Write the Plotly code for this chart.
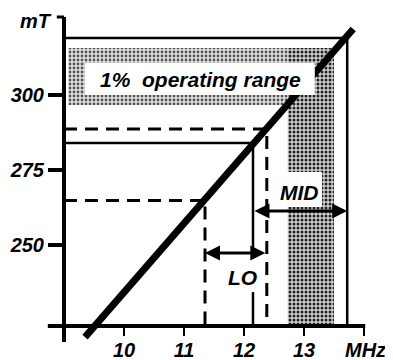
import plotly.graph_objects as go

# ---------------- data ----------------
# calibration line: field (mT) versus frequency (MHz)
diag_mhz = [9.35, 13.82]
diag_mt = [219.3, 322.0]

# horizontal levels (mT) and where they meet the calibration line (MHz)
level_mt = [319.0, 288.7, 284.0, 264.8]
level_mhz = [13.72, 12.38, 12.15, 11.35]

# axes
x_cross_mt = 223.0      # field at which the frequency axis is drawn
y_cross_mhz = 9.0       # frequency at which the field axis is drawn
x_ticks = [9, 10, 11, 12, 13, 14]
x_tick_text = ["", "10", "11", "12", "13", ""]
y_ticks = [250, 275, 300]
y_tick_text = ["250", "275", "300"]

# "1% operating range" shaded band
band_h_mhz = [9.07, 12.73]
band_h_mt = [296.7, 315.7]
band_v_mhz = [12.73, 13.50]
band_v_mt = [223.5, 315.7]

# LO / MID spans
lo_mhz = [11.35, 12.38]
lo_mt = 247.3
mid_mhz = [12.15, 13.72]
mid_mt = 261.3

FONT = "Liberation Sans, Arial, sans-serif"
bold_it = dict(family=FONT, size=21, color="black", weight="bold", style="italic")
tick_font = dict(family=FONT, size=20, color="black", weight="bold", style="italic")

fig = go.Figure()

# stippled bands
fig.add_trace(go.Scatter(
    x=[band_h_mhz[0], band_h_mhz[1], band_h_mhz[1], band_h_mhz[0], band_h_mhz[0]],
    y=[band_h_mt[0], band_h_mt[0], band_h_mt[1], band_h_mt[1], band_h_mt[0]],
    fill="toself", mode="none", hoverinfo="skip", showlegend=False,
    fillpattern=dict(shape=".", size=4, solidity=0.4, fgcolor="#555555",
                     bgcolor="#e0e0e0", fillmode="replace"),
))
fig.add_trace(go.Scatter(
    x=[band_v_mhz[0], band_v_mhz[1], band_v_mhz[1], band_v_mhz[0], band_v_mhz[0]],
    y=[band_v_mt[0], band_v_mt[0], band_v_mt[1], band_v_mt[1], band_v_mt[0]],
    fill="toself", mode="none", hoverinfo="skip", showlegend=False,
    fillpattern=dict(shape=".", size=4, solidity=0.45, fgcolor="#222222",
                     bgcolor="#d0d0d0", fillmode="replace"),
))

# level lines: horizontal from the field axis to the calibration line, then down
dash_styles = ["solid", "13px,8px", "solid", "13px,8px"]
widths = [2.5, 3, 2.5, 3]
for mt, mhz, ds, w in zip(level_mt, level_mhz, dash_styles, widths):
    fig.add_trace(go.Scatter(
        x=[y_cross_mhz, mhz, mhz], y=[mt, mt, x_cross_mt],
        mode="lines", line=dict(color="black", width=w, dash=ds),
        hoverinfo="skip", showlegend=False,
    ))

# calibration line
fig.add_trace(go.Scatter(
    x=diag_mhz, y=diag_mt, mode="lines",
    line=dict(color="black", width=7), hoverinfo="skip", showlegend=False,
))

shapes = []
# axis lines
shapes.append(dict(type="line", xref="x", yref="y", x0=8.73, x1=14.02,
                   y0=x_cross_mt, y1=x_cross_mt, line=dict(color="black", width=4),
                   layer="above"))
shapes.append(dict(type="line", xref="x", yref="y", x0=y_cross_mhz, x1=y_cross_mhz,
                   y0=217.7, y1=326.0, line=dict(color="black", width=4), layer="above"))
shapes.append(dict(type="line", xref="x", yref="y", x0=8.88, x1=y_cross_mhz,
                   y0=326.0, y1=326.0, line=dict(color="black", width=3), layer="above"))
# white boxes behind labels
shapes.append(dict(type="rect", xref="x", yref="y", x0=9.35, x1=13.18, y0=300.0, y1=310.7,
                   fillcolor="white", line=dict(width=0), layer="above"))
shapes.append(dict(type="rect", xref="x", yref="y", x0=12.70, x1=13.30, y0=262.7, y1=274.3,
                   fillcolor="white", line=dict(width=0), layer="above"))
shapes.append(dict(type="rect", xref="x", yref="y", x0=11.85, x1=12.30, y0=234.3, y1=245.7,
                   fillcolor="white", line=dict(width=0), layer="above"))

annotations = []
annotations.append(dict(x=11.28, y=305.3, xref="x", yref="y", text="1%  operating range",
                        showarrow=False, font=bold_it, xanchor="center", yanchor="middle"))
annotations.append(dict(x=12.92, y=267.5, xref="x", yref="y", text="MID",
                        showarrow=False, font=bold_it, xanchor="center", yanchor="middle"))
annotations.append(dict(x=11.975, y=239.2, xref="x", yref="y", text="LO",
                        showarrow=False, font=bold_it, xanchor="center", yanchor="middle"))
annotations.append(dict(x=-0.0244, y=0.979, xref="paper", yref="paper", text="mT",
                        showarrow=False, font=tick_font, xanchor="center", yanchor="middle"))
annotations.append(dict(x=0.9817, y=-0.018, xref="paper", yref="paper", text="MHz",
                        showarrow=False, font=tick_font, xanchor="center", yanchor="middle"))
# span arrows
annotations.append(dict(x=lo_mhz[0], y=lo_mt, ax=lo_mhz[1], ay=lo_mt,
                        xref="x", yref="y", axref="x", ayref="y", text="",
                        showarrow=True, arrowhead=2, startarrowhead=2, arrowside="end+start",
                        arrowwidth=3, arrowsize=1, arrowcolor="black",
                        standoff=0, startstandoff=0))
annotations.append(dict(x=mid_mhz[1], y=mid_mt, ax=mid_mhz[0], ay=mid_mt,
                        xref="x", yref="y", axref="x", ayref="y", text="",
                        showarrow=True, arrowhead=2, startarrowhead=2, arrowside="end+start",
                        arrowwidth=3, arrowsize=1, arrowcolor="black",
                        standoff=0, startstandoff=0))

fig.update_layout(
    width=385, height=352,
    margin=dict(l=36, r=21, t=6, b=16),
    paper_bgcolor="white", plot_bgcolor="white",
    showlegend=False,
    shapes=shapes, annotations=annotations,
    xaxis=dict(range=[8.6667, 14.1333], anchor="free", position=18 / 330,
               showgrid=False, zeroline=False, showline=False,
               ticks="outside", ticklen=9, tickwidth=2, tickcolor="black",
               tickvals=x_ticks, ticktext=x_tick_text, tickfont=tick_font,
               ticklabelstandoff=-3, automargin=False),
    yaxis=dict(range=[217.0, 327.0], anchor="free", position=20 / 328,
               showgrid=False, zeroline=False, showline=False,
               ticks="outside", ticklen=16, tickwidth=4, tickcolor="black",
               tickvals=y_ticks, ticktext=y_tick_text, tickfont=tick_font,
               automargin=False),
)

fig.write_html("out.html")
